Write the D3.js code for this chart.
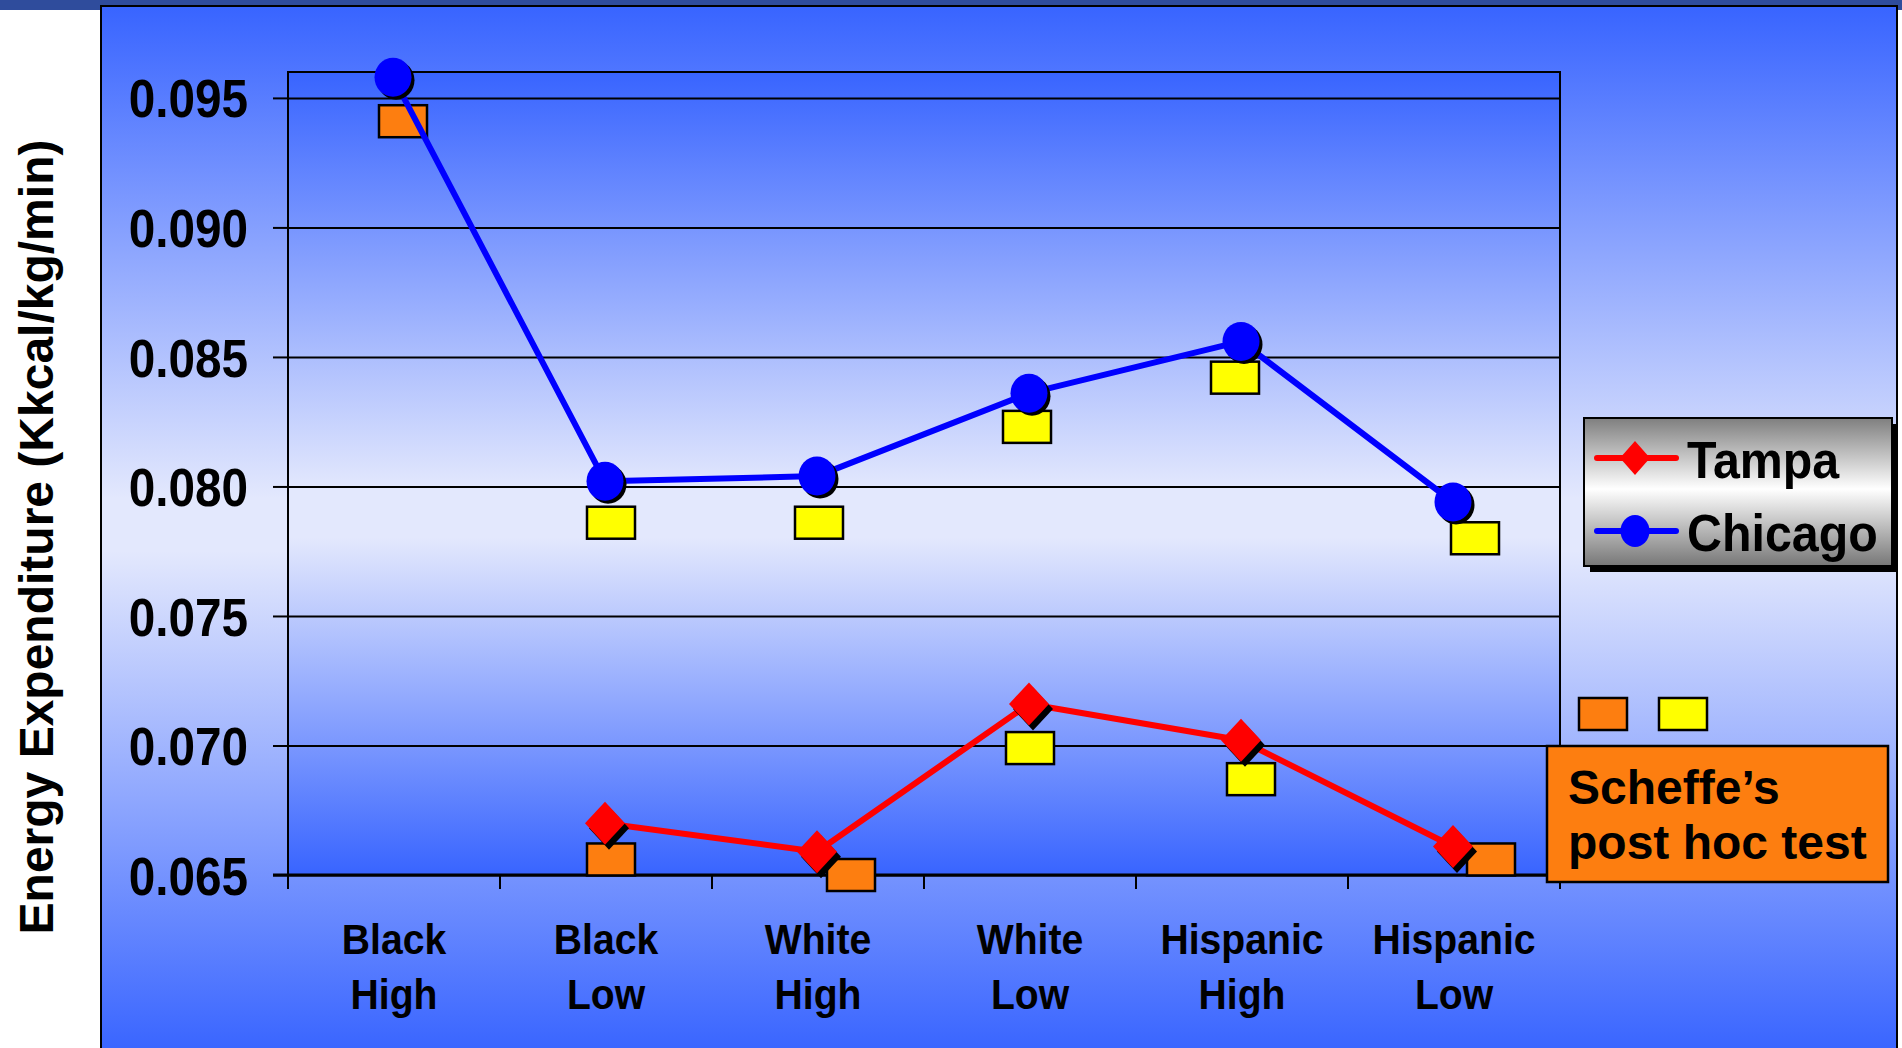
<!DOCTYPE html>
<html>
<head>
<meta charset="utf-8">
<script src="https://cdn.jsdelivr.net/npm/d3@7"></script>
<style>
  html, body { margin: 0; padding: 0; background: #ffffff; }
  svg { display: block; }
  text { font-family: "Liberation Sans", Arial, Helvetica, sans-serif; font-weight: bold; fill: #000; }
</style>
</head>
<body>
<svg id="chart" width="1902" height="1048"></svg>
<script>
// ---- data ----
const categories = ["Black High", "Black Low", "White High", "White Low", "Hispanic High", "Hispanic Low"];
const seriesNames = ["Tampa", "Chicago"];
const tampa   = [null, 0.0670, 0.0659, 0.0716, 0.0702, 0.0661];
const chicago = [0.0958, 0.0802, 0.0804, 0.0836, 0.0856, 0.0794];
const yTicks = [0.065, 0.070, 0.075, 0.080, 0.085, 0.090, 0.095];

// Scheffe's post hoc test groupings (level and group letter per category)
const scheffeGroups = ["a", "b"];
const scheffeChicago      = [0.0941, 0.0786, 0.0786, 0.0823, 0.0842, 0.0780];
const scheffeChicagoGroup = ["a", "b", "b", "b", "b", "b"];
const scheffeTampa        = [null, 0.0656, 0.0650, 0.0699, 0.0687, 0.0656];
const scheffeTampaGroup   = [null, "a", "a", "b", "b", "a"];
const scheffeLabel = ["Scheffe\u2019s", "post hoc test"];

// ---- layout ----
const W = 1902, H = 1048;
const plot = { left: 288, right: 1560, top: 72, bottom: 875 };
const BLUE = "#3864ff", PALE = "#e3e8fd";
// horizontal nudges of the post hoc boxes from the category centre (px)
const chicagoNudge = [9, 5, 1, -3, -7, 21];
const tampaNudge   = [0, 5, 33, 0, 9, 37];

const svg = d3.select("#chart");
const defs = svg.append("defs");

function vGrad(id, stops) {
  const g = defs.append("linearGradient").attr("id", id)
    .attr("x1", 0).attr("y1", 0).attr("x2", 0).attr("y2", 1);
  stops.forEach(([o, c]) => g.append("stop").attr("offset", o).attr("stop-color", c));
}
vGrad("panelGrad", [[0, BLUE], [0.47, PALE], [0.52, PALE], [1, BLUE]]);
vGrad("plotGrad",  [[0, BLUE], [0.52, PALE], [0.58, PALE], [1, BLUE]]);
vGrad("legendGrad", [[0, "#7f7f7f"], [0.48, "#ffffff"], [1, "#777777"]]);

// page frame
svg.append("rect").attr("x", 0).attr("y", 0).attr("width", W).attr("height", 10).attr("fill", "#2f4c9c");
svg.append("rect").attr("x", 101).attr("y", 6).attr("width", 1796).attr("height", H)
  .attr("fill", "url(#panelGrad)").attr("stroke", "#000").attr("stroke-width", 2);

// plot background
svg.append("rect").attr("x", plot.left).attr("y", plot.top)
  .attr("width", plot.right - plot.left).attr("height", plot.bottom - plot.top)
  .attr("fill", "url(#plotGrad)");

// ---- scales ----
const x = d3.scaleBand().domain(categories).range([plot.left, plot.right]);
const y = d3.scaleLinear().domain([0.065, 0.096]).range([plot.bottom, plot.top]);
const cx = (c) => x(c) + x.bandwidth() / 2;
const groupColor = d3.scaleOrdinal().domain(scheffeGroups).range(["#fd7e10", "#ffff00"]);

// gridlines
const grid = svg.append("g").attr("transform", `translate(${plot.left},0)`)
  .call(d3.axisLeft(y).tickValues(yTicks).tickSize(-(plot.right - plot.left)).tickFormat(""));
grid.select(".domain").remove();
grid.selectAll("line").attr("stroke", "#000").attr("stroke-width", 2);

// y axis with labels
const yAxis = svg.append("g").attr("transform", `translate(${plot.left},0)`)
  .call(d3.axisLeft(y).tickValues(yTicks).tickSize(15).tickFormat(d3.format(".3f")));
yAxis.select(".domain").remove();
yAxis.selectAll("line").attr("stroke", "#000").attr("stroke-width", 2);
yAxis.selectAll("text")
  .attr("font-size", 53).attr("font-family", "'Liberation Sans', Arial, sans-serif")
  .attr("font-weight", "bold").attr("fill", "#000")
  .attr("text-anchor", "end").attr("dy", "0.36em")
  .attr("x", -40 / 0.9).attr("transform", "scale(0.9,1)");

// plot frame
svg.append("rect").attr("x", plot.left).attr("y", plot.top)
  .attr("width", plot.right - plot.left).attr("height", plot.bottom - plot.top)
  .attr("fill", "none").attr("stroke", "#000").attr("stroke-width", 2);
svg.append("line").attr("x1", plot.left - 15).attr("x2", plot.right)
  .attr("y1", plot.bottom).attr("y2", plot.bottom).attr("stroke", "#000").attr("stroke-width", 3);

// category boundary ticks
const edges = categories.map(c => x(c)).concat([x.range()[1]]);
svg.append("g").selectAll("line").data(edges).join("line")
  .attr("x1", d => d).attr("x2", d => d)
  .attr("y1", plot.bottom).attr("y2", plot.bottom + 14)
  .attr("stroke", "#000").attr("stroke-width", 2);

// category labels (two lines)
const catG = svg.append("g").selectAll("g").data(categories).join("g")
  .attr("transform", d => `translate(${cx(d)},954) scale(0.91,1)`);
catG.each(function (d) {
  const parts = d.split(" ");
  const t = d3.select(this).append("text").attr("text-anchor", "middle").attr("font-size", 43);
  parts.forEach((p, i) => t.append("tspan").attr("x", 0).attr("y", i * 55).text(p));
});

// y axis title
svg.append("text")
  .attr("transform", "translate(53,537) rotate(-90)")
  .attr("text-anchor", "middle").attr("font-size", 48)
  .text("Energy Expenditure (Kkcal/kg/min)");

// ---- series ----
const line = d3.line()
  .defined(d => d.v != null)
  .x(d => cx(d.c) - 1)
  .y(d => y(d.v));
const tampaPts = categories.map((c, i) => ({ c, v: tampa[i] }));
const chicagoPts = categories.map((c, i) => ({ c, v: chicago[i] }));

// post hoc boxes
function drawScheffe(vals, groups, nudge) {
  const d = categories.map((c, i) => ({ c, v: vals[i], g: groups[i], n: nudge[i] }))
    .filter(e => e.v != null);
  svg.append("g").selectAll("rect").data(d).join("rect")
    .attr("x", e => cx(e.c) + e.n - 24).attr("y", e => y(e.v) - 16)
    .attr("width", 48).attr("height", 32)
    .attr("fill", e => groupColor(e.g)).attr("stroke", "#000").attr("stroke-width", 2.5);
}

const diamond = (r, h) => `M0,${-h}L${r},0L0,${h}L${-r},0Z`;

// Chicago
drawScheffe(scheffeChicago, scheffeChicagoGroup, chicagoNudge);
svg.append("path").datum(chicagoPts).attr("d", line)
  .attr("fill", "none").attr("stroke", "#0000ff").attr("stroke-width", 6).attr("stroke-linejoin", "round");
const cP = chicagoPts.filter(d => d.v != null);
svg.append("g").selectAll("ellipse").data(cP).join("ellipse")
  .attr("cx", d => cx(d.c) + 2).attr("cy", d => y(d.v) + 3).attr("rx", 18.5).attr("ry", 19.5).attr("fill", "#000");
svg.append("g").selectAll("ellipse").data(cP).join("ellipse")
  .attr("cx", d => cx(d.c) - 1).attr("cy", d => y(d.v)).attr("rx", 18.5).attr("ry", 19.5).attr("fill", "#0000ff");

// Tampa
drawScheffe(scheffeTampa, scheffeTampaGroup, tampaNudge);
svg.append("path").datum(tampaPts).attr("d", line)
  .attr("fill", "none").attr("stroke", "#ff0000").attr("stroke-width", 6).attr("stroke-linejoin", "round");
const tP = tampaPts.filter(d => d.v != null);
svg.append("g").selectAll("path").data(tP).join("path")
  .attr("transform", d => `translate(${cx(d.c) + 3},${y(d.v) + 5})`)
  .attr("d", diamond(20, 21.5)).attr("fill", "#000");
svg.append("g").selectAll("path").data(tP).join("path")
  .attr("transform", d => `translate(${cx(d.c) - 1},${y(d.v)})`)
  .attr("d", diamond(20, 21.5)).attr("fill", "#ff0000");

// ---- legend ----
const lg = svg.append("g").attr("transform", "translate(1584,418)");
lg.append("rect").attr("x", 6).attr("y", 6).attr("width", 308).attr("height", 148).attr("fill", "#000");
lg.append("rect").attr("x", 0).attr("y", 0).attr("width", 308).attr("height", 148)
  .attr("fill", "url(#legendGrad)").attr("stroke", "#000").attr("stroke-width", 2);
const legendColors = { Tampa: "#ff0000", Chicago: "#0000ff" };
seriesNames.forEach((name, i) => {
  const cy = 40 + i * 73;
  const row = lg.append("g").attr("transform", `translate(0,${cy})`);
  row.append("line").attr("x1", 13).attr("x2", 92).attr("y1", 0).attr("y2", 0)
    .attr("stroke", legendColors[name]).attr("stroke-width", 6).attr("stroke-linecap", "round");
  if (name === "Tampa") {
    row.append("path").attr("transform", "translate(51,0)").attr("d", diamond(15, 17)).attr("fill", legendColors[name]);
  } else {
    row.append("ellipse").attr("cx", 51).attr("cy", 0).attr("rx", 14.5).attr("ry", 16).attr("fill", legendColors[name]);
  }
  row.append("g").attr("transform", "translate(103,20) scale(0.93,1)")
    .append("text").attr("font-size", 52).text(name);
});

// ---- post hoc key ----
const key = svg.append("g");
key.selectAll("rect").data(scheffeGroups).join("rect")
  .attr("x", (d, i) => 1579 + i * 80).attr("y", 698).attr("width", 48).attr("height", 32)
  .attr("fill", d => groupColor(d)).attr("stroke", "#000").attr("stroke-width", 2.5);
key.append("rect").attr("x", 1547).attr("y", 746).attr("width", 341).attr("height", 136)
  .attr("fill", "#fd7e10").attr("stroke", "#000").attr("stroke-width", 2.5);
key.selectAll("text").data(scheffeLabel).join("text")
  .attr("x", 1568).attr("y", (d, i) => 804 + i * 55).attr("font-size", 48).text(d => d);
</script>
</body>
</html>
